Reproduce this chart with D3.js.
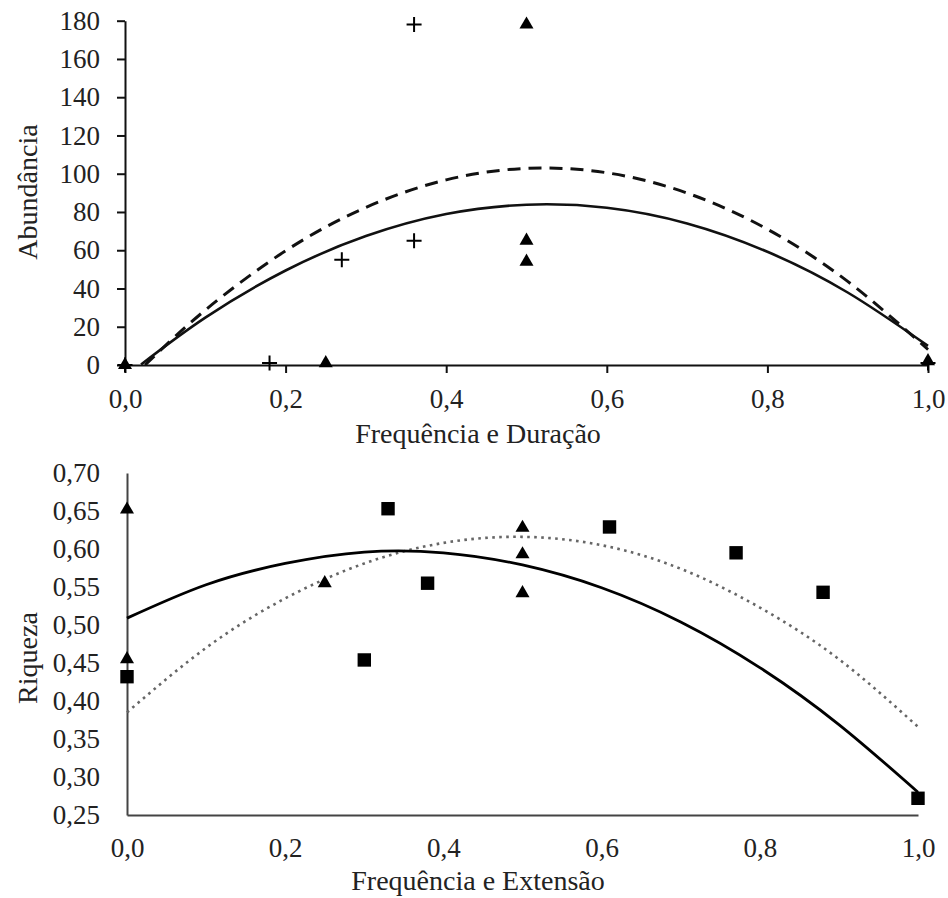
<!DOCTYPE html>
<html>
<head>
<meta charset="utf-8">
<script src="https://cdn.jsdelivr.net/npm/d3@7"></script>
<style>
  body { margin: 0; background: #fff; }
  svg text { font-family: "Liberation Serif", "Times New Roman", serif; font-size: 27px; fill: #222; }
  svg text.title { font-size: 28px; }
</style>
</head>
<body>
<svg id="chart" width="948" height="898"></svg>
<script>
// ---- top chart data (Abundância) ----
const topXTicks = [0, 0.2, 0.4, 0.6, 0.8, 1.0];
const topYTicks = [0, 20, 40, 60, 80, 100, 120, 140, 160, 180];

const plusX = [0, 0.18, 0.27, 0.36, 0.36, 1.0];
const plusY = [0, 1, 55, 65, 178, 1];
const triTopX = [0, 0.25, 0.5, 0.5, 0.5, 1.0];
const triTopY = [0, 1, 54, 65, 178, 2];

// trend curves
const topSolidX = [0.02, 0.1, 0.2, 0.3, 0.4, 0.5, 0.6, 0.7, 0.8, 0.9, 1.0];
const topSolidY = [0.3, 24.8, 49.4, 67.4, 78.9, 83.8, 82.2, 74.0, 59.2, 37.9, 10];
const topDashX = [0.025, 0.1, 0.2, 0.3, 0.4, 0.5, 0.6, 0.7, 0.8, 0.9, 1.0];
const topDashY = [0, 28.7, 59.7, 82.4, 96.8, 102.8, 100.5, 89.9, 71.0, 43.7, 8.1];

// ---- bottom chart data (Riqueza) ----
const botXTicks = [0, 0.2, 0.4, 0.6, 0.8, 1.0];
const botYTicks = [0.25, 0.30, 0.35, 0.40, 0.45, 0.50, 0.55, 0.60, 0.65, 0.70];

const triBotX = [0, 0, 0.25, 0.5, 0.5, 0.5];
const triBotY = [0.652, 0.455, 0.555, 0.628, 0.593, 0.542];
const sqX = [0, 0.30, 0.33, 0.38, 0.61, 0.77, 0.88, 1.0];
const sqY = [0.432, 0.454, 0.653, 0.555, 0.629, 0.595, 0.543, 0.272];

const botCurveX = [0, 0.1, 0.2, 0.3, 0.4, 0.5, 0.6, 0.7, 0.8, 0.9, 1.0];
const botSolidY = [0.509, 0.553, 0.581, 0.596, 0.595, 0.579, 0.549, 0.504, 0.444, 0.369, 0.280];
const botDotY = [0.385, 0.470, 0.535, 0.581, 0.608, 0.616, 0.605, 0.574, 0.523, 0.455, 0.366];

const svg = d3.select('#chart');
const comma = (fmt) => (d) => d3.format(fmt)(d).replace('.', ',');
const zip = (xs, ys) => xs.map((x, i) => [x, ys[i]]);

const triangle = d3.symbol().type(d3.symbolTriangle).size(85);
const square = d3.symbol().type(d3.symbolSquare).size(180);
const plus = 'M-7.5,0H7.5M0,-7.5V7.5';

////// top chart ///////
let xTop = d3.scaleLinear().domain([0, 1]).range([125, 928]);
let yTop = d3.scaleLinear().domain([0, 180]).range([365, 20.7]);

let gTop = svg.append('g');

gTop.append('g')
    .attr('transform', `translate(0,${yTop(0)})`)
    .call(d3.axisBottom(xTop).tickValues(topXTicks).tickFormat(comma('.1f')).tickSize(8).tickSizeOuter(0).tickPadding(16))
    .call(g => g.selectAll('line, path').attr('stroke', '#111').attr('stroke-width', 2));

gTop.append('g')
    .attr('transform', `translate(${xTop(0)},0)`)
    .call(d3.axisLeft(yTop).tickValues(topYTicks).tickSize(8).tickSizeOuter(0).tickPadding(17))
    .call(g => g.selectAll('line, path').attr('stroke', '#111').attr('stroke-width', 2));

let lineTop = d3.line().x(d => xTop(d[0])).y(d => yTop(d[1])).curve(d3.curveNatural);

gTop.append('path')
    .attr('d', lineTop(zip(topDashX, topDashY)))
    .attr('fill', 'none').attr('stroke', '#111').attr('stroke-width', 3)
    .attr('stroke-dasharray', '13 8');

gTop.append('path')
    .attr('d', lineTop(zip(topSolidX, topSolidY)))
    .attr('fill', 'none').attr('stroke', '#111').attr('stroke-width', 2.6);

gTop.selectAll('.tri').data(zip(triTopX, triTopY)).join('path')
    .attr('d', triangle)
    .attr('transform', d => `translate(${xTop(d[0])},${yTop(d[1])})`)
    .attr('fill', '#000');

gTop.selectAll('.plus').data(zip(plusX, plusY)).join('path')
    .attr('d', plus)
    .attr('transform', d => `translate(${xTop(d[0])},${yTop(d[1])})`)
    .attr('fill', 'none').attr('stroke', '#000').attr('stroke-width', 2);

gTop.append('text')
    .attr('class', 'title')
    .attr('x', 478).attr('y', 443)
    .attr('text-anchor', 'middle')
    .text('Frequência e Duração');

gTop.append('text')
    .attr('class', 'title')
    .attr('transform', 'translate(37,192) rotate(-90)')
    .attr('text-anchor', 'middle')
    .text('Abundância');

////// bottom chart ///////
let xBot = d3.scaleLinear().domain([0, 1]).range([127, 918]);
let yBot = d3.scaleLinear().domain([0.25, 0.70]).range([815, 473]);

let gBot = svg.append('g');

gBot.append('g')
    .attr('transform', `translate(0,${yBot(0.25)})`)
    .call(d3.axisBottom(xBot).tickValues(botXTicks).tickFormat(comma('.1f')).tickSize(0).tickPadding(23))
    .call(g => g.selectAll('path').attr('stroke', '#444').attr('stroke-width', 2));

gBot.append('g')
    .attr('transform', `translate(${xBot(0)},0)`)
    .call(d3.axisLeft(yBot).tickValues(botYTicks).tickFormat(comma('.2f')).tickSize(0).tickPadding(27))
    .call(g => g.selectAll('path').attr('stroke', '#444').attr('stroke-width', 2));

let lineBot = d3.line().x(d => xBot(d[0])).y(d => yBot(d[1])).curve(d3.curveNatural);

gBot.append('path')
    .attr('d', lineBot(zip(botCurveX, botDotY)))
    .attr('fill', 'none').attr('stroke', '#666').attr('stroke-width', 2.6)
    .attr('stroke-dasharray', '2.6 4.4');

gBot.append('path')
    .attr('d', lineBot(zip(botCurveX, botSolidY)))
    .attr('fill', 'none').attr('stroke', '#000').attr('stroke-width', 2.8);

gBot.selectAll('.tri').data(zip(triBotX, triBotY)).join('path')
    .attr('d', triangle)
    .attr('transform', d => `translate(${xBot(d[0])},${yBot(d[1])})`)
    .attr('fill', '#000');

gBot.selectAll('.sq').data(zip(sqX, sqY)).join('path')
    .attr('d', square)
    .attr('transform', d => `translate(${xBot(d[0])},${yBot(d[1])})`)
    .attr('fill', '#000');

gBot.append('text')
    .attr('class', 'title')
    .attr('x', 478).attr('y', 890)
    .attr('text-anchor', 'middle')
    .text('Frequência e Extensão');

gBot.append('text')
    .attr('class', 'title')
    .attr('transform', 'translate(37,658) rotate(-90)')
    .attr('text-anchor', 'middle')
    .text('Riqueza');
</script>
</body>
</html>
